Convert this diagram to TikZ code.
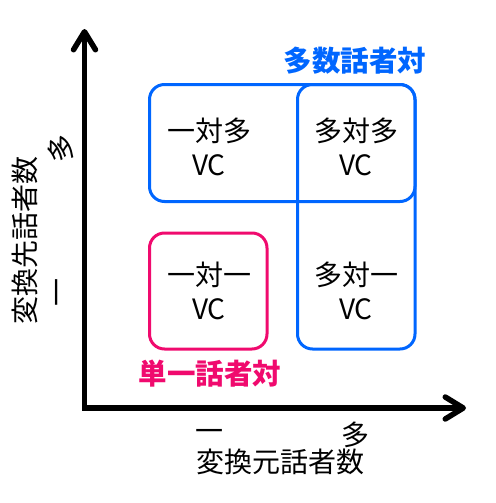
\documentclass[tikz,border=0pt]{standalone}
\usepackage{fontspec}
\newfontfamily\jp{Noto Sans CJK JP}
\usetikzlibrary{arrows.meta}

\definecolor{multiblue}{RGB}{0,102,255}
\definecolor{singlepink}{RGB}{240,10,110}

\tikzset{
    axisline/.style={line width=5.5pt,line join=miter,
        {Straight Barb[length=18pt,width=22pt,line cap=round,line join=round]}-{Straight Barb[length=18pt,width=22pt,line cap=round,line join=round]}},
    groupbox/.style={line width=3pt,rounded corners=15pt},
    pairtext/.style={font=\jp\fontsize{28}{34}\selectfont,align=center,inner sep=0pt},
    groupname/.style={font=\jp\bfseries\fontsize{28.5}{34}\selectfont,inner sep=0pt},
    ticktext/.style={font=\jp\fontsize{28}{32}\selectfont,inner sep=0pt}
}

\begin{document}
\begin{tikzpicture}[x=1pt,y=-1pt]
    \useasboundingbox (0,0) rectangle (495,503);

    % axes
    \coordinate (ytip) at (84.5,29);
    \coordinate (origin) at (84.5,408);
    \coordinate (xtip) at (466,408);
    \draw[axisline] (ytip) -- (origin) -- (xtip);

    % groups
    \draw[groupbox,multiblue] (149.5,84.5) rectangle (415,201.5);
    \draw[groupbox,multiblue] (297.5,84.5) rectangle (415,349);
    \draw[groupbox,singlepink] (149.5,233) rectangle (267,349);

    \node[groupname,text=multiblue] (multi) at (355,61) {多数話者対};
    \node[groupname,text=singlepink] (single) at (210,374) {単一話者対};

    % cells
    \node[pairtext] (om) at (209,147) {一対多\\VC};
    \node[pairtext] (mm) at (356,147) {多対多\\VC};
    \node[pairtext] (oo) at (209,291) {一対一\\VC};
    \node[pairtext] (mo) at (356,291) {多対一\\VC};

    % axis labels
    \node[ticktext] (xone) at (209,435) {一};
    \node[ticktext] (xmany) at (355,435) {多};
    \node[ticktext] (xname) at (280,462) {変換元話者数};

    \node[ticktext,rotate=90] (yone) at (61,292) {一};
    \node[ticktext,rotate=90] (ymany) at (61,148) {多};
    \node[ticktext,rotate=90] (yname) at (25,240) {変換先話者数};
\end{tikzpicture}
\end{document}
